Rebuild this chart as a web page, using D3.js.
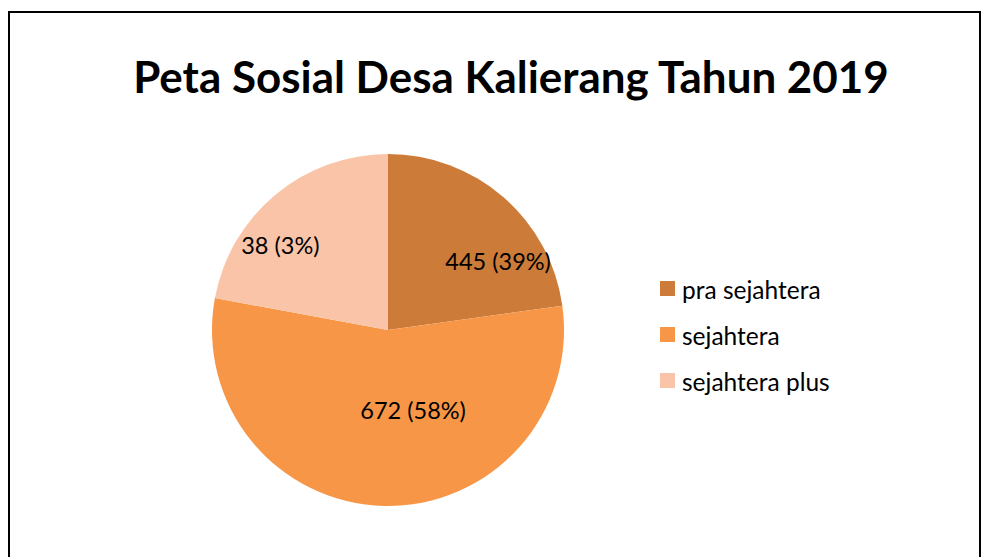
<html>
<head>
    <script src="https://d3js.org/d3.v7.min.js"></script>
    <style>
        body { margin: 0; background: white; }
        text { font-family: Lato, "Open Sans", sans-serif; fill: #000; }
    </style>
</head>
<body>
	<script>
        // categories and the values printed in the labels
        var categories = ['pra sejahtera', 'sejahtera', 'sejahtera plus'];
        var counts = [445, 672, 38];
        var percents = ['39%', '58%', '3%'];
        // the slices in the picture do not follow the counts, these are the drawn shares (read off the angles)
        var sliceShares = [22.8, 55.1, 22.1];
        var colors = ['#CC7B38', '#F79646', '#F9C4A7'];

        var width = 1002, height = 557;
        var cx = 388, cy = 330, radius = 176;

		var svg = d3.select("body").append("svg").attr("width", width).attr("height", height);

        svg.append("rect").attr("x", 9).attr("y", 12).attr("width", 971).attr("height", 600)
            .attr("fill", "white").attr("stroke", "black").attr("stroke-width", 2);

        var title = svg.append("text").attr("x", 511).attr("y", 93)
            .attr("text-anchor", "middle").style("font-weight", "bold").style("font-size", "40px")
            .text("Peta Sosial Desa Kalierang Tahun 2019");
        // fit title to the width it has in the reference
        var tw = title.node().getComputedTextLength();
        title.style("font-size", (40 * 756 / tw) + "px");

        var rows = categories.map(function(c, i) {
            return { label: c, count: counts[i], pct: percents[i], share: sliceShares[i], color: colors[i] };
        });

      	var data = d3.pie().sort(null).value(function(d) { return d.share; })(rows);
        var segments = d3.arc().innerRadius(0).outerRadius(radius);

      	var g = svg.append("g").attr("transform", "translate(" + cx + "," + cy + ")");
        g.selectAll("path").data(data).enter().append("path")
            .attr("d", segments)
            .attr("fill", function(d) { return d.data.color; });

        // label placement (angle in degrees from 12 o'clock, distance from centre)
        var labelPos = [[57.9, 130], [162.6, 84], [308.2, 137]];
        g.selectAll(".lbl").data(data).enter().append("text")
            .attr("class", "lbl")
            .attr("text-anchor", "middle")
            .attr("dominant-baseline", "central")
            .style("font-size", "23.5px")
            .attr("x", function(d, i) { return labelPos[i][1] * Math.sin(labelPos[i][0] * Math.PI / 180); })
            .attr("y", function(d, i) { return -labelPos[i][1] * Math.cos(labelPos[i][0] * Math.PI / 180); })
            .text(function(d) { return d.data.count + " (" + d.data.pct + ")"; });

        var legend = svg.append("g").attr("transform", "translate(660,281)")
            .selectAll(".legends").data(rows).enter().append("g").classed("legends", true)
            .attr("transform", function(d, i) { return "translate(0," + i * 46 + ")"; });

        legend.append("rect").attr("width", 15).attr("height", 15)
            .attr("fill", function(d) { return d.color; });
        legend.append("text").attr("x", 22).attr("y", 8.5)
            .attr("dominant-baseline", "central")
            .style("font-size", "24.5px")
            .text(function(d) { return d.label; });
	</script>
</body>
</html>
